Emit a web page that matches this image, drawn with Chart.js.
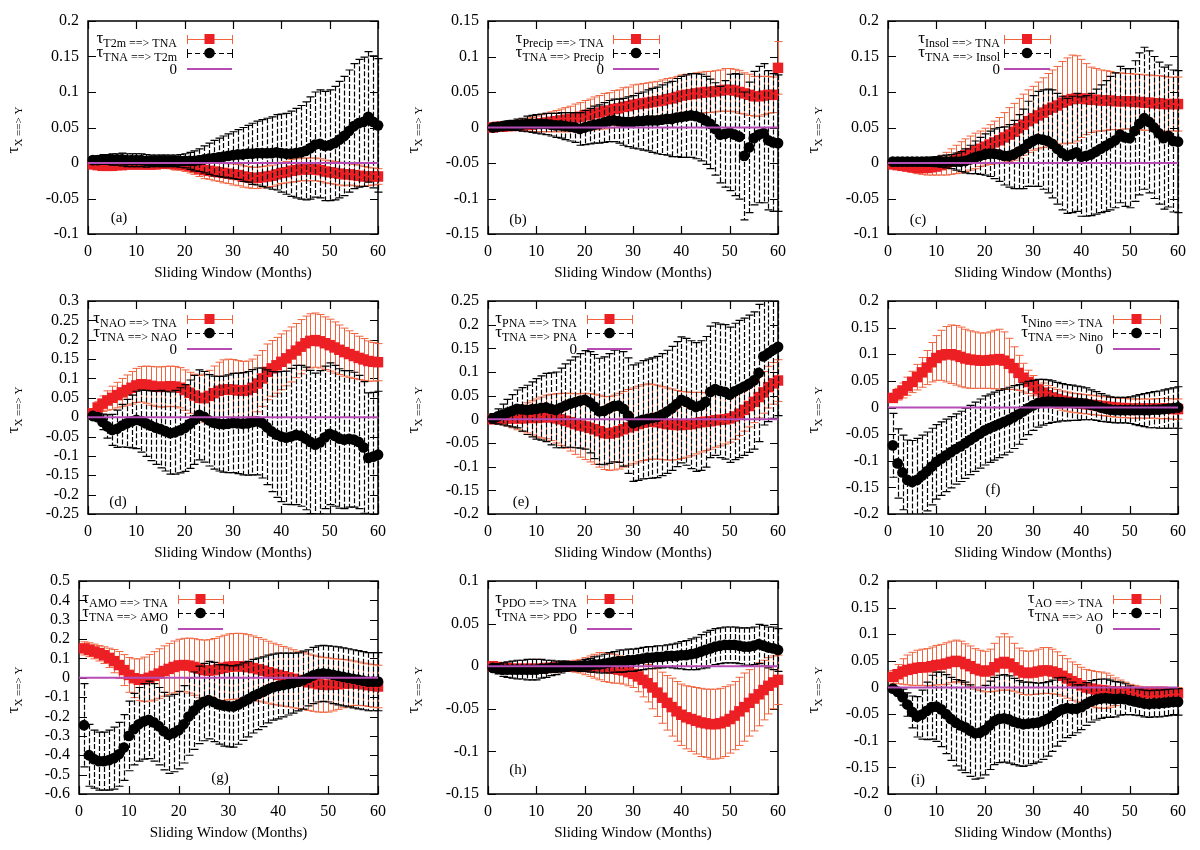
<!DOCTYPE html>
<html>
<head>
<meta charset="utf-8">
<script src="https://cdn.jsdelivr.net/npm/chart.js@4.4.1/dist/chart.umd.min.js"></script>
<style>
  html, body { margin: 0; padding: 0; background: #fff; }
  #grid { position: relative; width: 1200px; height: 850px; background: #fff; overflow: hidden; }
  #grid canvas { position: absolute; }
</style>
</head>
<body>
<div id="grid"></div>
<script>
/* ---- Datos: ventana deslizante (meses) ---- */
const months = [1,2,3,4,5,6,7,8,9,10,11,12,13,14,15,16,17,18,19,20,
  21,22,23,24,25,26,27,28,29,30,31,32,33,34,35,36,37,38,39,40,
  41,42,43,44,45,46,47,48,49,50,51,52,53,54,55,56,57,58,59,60];

/* (a) T2m */
const t2mToTna = [-0.002,-0.003,-0.004,-0.004,-0.004,-0.003,-0.003,-0.002,-0.002,-0.002,
  -0.002,-0.002,-0.002,-0.002,-0.001,-0.001,-0.001,-0.002,-0.002,-0.003,
  -0.004,-0.006,-0.008,-0.010,-0.011,-0.012,-0.013,-0.014,-0.015,-0.016,
  -0.017,-0.019,-0.020,-0.021,-0.021,-0.020,-0.019,-0.018,-0.016,-0.014,
  -0.013,-0.011,-0.010,-0.009,-0.009,-0.009,-0.009,-0.010,-0.012,-0.013,
  -0.014,-0.015,-0.016,-0.016,-0.017,-0.018,-0.019,-0.019,-0.019,-0.019];
const t2mToTnaErr = [0.003,0.003,0.004,0.004,0.004,0.004,0.005,0.005,0.005,0.005,
  0.005,0.006,0.006,0.006,0.006,0.007,0.007,0.008,0.008,0.009,
  0.010,0.010,0.011,0.012,0.012,0.013,0.013,0.014,0.014,0.015,
  0.015,0.015,0.015,0.015,0.015,0.015,0.015,0.015,0.015,0.015,
  0.015,0.016,0.016,0.016,0.016,0.016,0.016,0.016,0.016,0.016,
  0.016,0.016,0.016,0.015,0.015,0.015,0.014,0.013,0.012,0.011];
const tnaToT2m = [0.004,0.004,0.005,0.005,0.005,0.005,0.005,0.004,0.004,0.004,
  0.004,0.003,0.003,0.003,0.003,0.003,0.003,0.003,0.003,0.003,
  0.003,0.003,0.004,0.005,0.006,0.007,0.008,0.009,0.010,0.011,
  0.012,0.012,0.013,0.013,0.014,0.014,0.014,0.014,0.015,0.014,
  0.013,0.013,0.014,0.015,0.017,0.021,0.026,0.027,0.024,0.025,
  0.028,0.033,0.038,0.045,0.052,0.056,0.058,0.065,0.058,0.053];
const tnaToT2mErr = [0.005,0.006,0.007,0.007,0.008,0.008,0.009,0.009,0.009,0.009,
  0.009,0.009,0.008,0.008,0.008,0.008,0.008,0.008,0.009,0.010,
  0.012,0.014,0.016,0.019,0.022,0.025,0.027,0.029,0.031,0.033,
  0.035,0.038,0.040,0.043,0.045,0.047,0.049,0.051,0.053,0.055,
  0.057,0.060,0.063,0.066,0.069,0.072,0.074,0.076,0.077,0.078,
  0.080,0.082,0.084,0.086,0.088,0.090,0.091,0.092,0.093,0.094];

/* (b) Precip */
const precipToTna = [0.000,0.001,0.001,0.002,0.002,0.003,0.003,0.004,0.004,0.005,
  0.006,0.007,0.008,0.009,0.010,0.011,0.012,0.014,0.015,0.017,
  0.018,0.020,0.021,0.023,0.024,0.026,0.027,0.029,0.030,0.032,
  0.033,0.034,0.035,0.036,0.037,0.038,0.040,0.041,0.043,0.045,
  0.046,0.047,0.048,0.049,0.050,0.050,0.051,0.052,0.053,0.053,
  0.052,0.050,0.048,0.046,0.044,0.044,0.045,0.046,0.046,0.084];
const precipToTnaErr = [0.002,0.003,0.004,0.005,0.006,0.007,0.008,0.009,0.010,0.011,
  0.012,0.013,0.014,0.015,0.016,0.017,0.018,0.019,0.020,0.021,
  0.022,0.023,0.024,0.025,0.025,0.026,0.026,0.027,0.027,0.028,
  0.028,0.028,0.028,0.028,0.028,0.029,0.029,0.029,0.029,0.029,
  0.029,0.029,0.029,0.029,0.029,0.029,0.029,0.029,0.030,0.030,
  0.030,0.030,0.029,0.029,0.028,0.028,0.027,0.026,0.025,0.037];
const tnaToPrecip = [0.000,0.001,0.002,0.003,0.003,0.004,0.004,0.005,0.005,0.005,
  0.005,0.005,0.004,0.003,0.003,0.002,0.001,0.000,-0.002,0.000,
  0.002,0.004,0.005,0.007,0.009,0.010,0.009,0.008,0.008,0.008,
  0.009,0.009,0.010,0.010,0.010,0.011,0.012,0.012,0.014,0.015,
  0.016,0.017,0.016,0.014,0.010,0.005,-0.002,-0.010,-0.009,-0.007,
  -0.010,-0.013,-0.040,-0.028,-0.015,-0.010,-0.008,-0.018,-0.021,-0.022];
const tnaToPrecipErr = [0.002,0.003,0.005,0.006,0.007,0.008,0.009,0.011,0.012,0.013,
  0.014,0.015,0.016,0.017,0.018,0.019,0.020,0.021,0.023,0.024,
  0.025,0.026,0.027,0.028,0.029,0.030,0.031,0.033,0.035,0.037,
  0.039,0.041,0.043,0.045,0.047,0.049,0.051,0.053,0.055,0.057,
  0.058,0.059,0.060,0.061,0.062,0.063,0.065,0.068,0.075,0.082,
  0.086,0.088,0.090,0.092,0.094,0.096,0.098,0.098,0.097,0.096];

/* (c) Insol */
const insolToTna = [-0.002,-0.003,-0.004,-0.005,-0.006,-0.007,-0.007,-0.007,-0.006,-0.005,
  -0.003,-0.001,0.002,0.005,0.008,0.011,0.014,0.017,0.020,0.023,
  0.026,0.029,0.032,0.036,0.040,0.044,0.049,0.054,0.059,0.063,
  0.067,0.071,0.075,0.078,0.081,0.085,0.088,0.090,0.091,0.091,
  0.090,0.089,0.089,0.088,0.088,0.088,0.087,0.087,0.087,0.087,
  0.086,0.086,0.085,0.085,0.084,0.084,0.083,0.083,0.083,0.083];
const insolToTnaErr = [0.003,0.004,0.005,0.006,0.007,0.008,0.009,0.010,0.011,0.012,
  0.014,0.016,0.018,0.020,0.022,0.023,0.024,0.025,0.025,0.026,
  0.028,0.030,0.032,0.035,0.038,0.040,0.042,0.043,0.044,0.045,
  0.047,0.049,0.051,0.053,0.055,0.058,0.060,0.062,0.060,0.055,
  0.050,0.046,0.044,0.043,0.042,0.041,0.040,0.040,0.039,0.039,
  0.039,0.039,0.039,0.039,0.039,0.039,0.039,0.038,0.038,0.038];
const tnaToInsol = [0.002,0.002,0.002,0.002,0.002,0.002,0.002,0.002,0.002,0.002,
  0.002,0.002,0.002,0.002,0.002,0.003,0.005,0.008,0.010,0.012,
  0.013,0.013,0.012,0.010,0.010,0.012,0.016,0.020,0.027,0.031,
  0.034,0.033,0.031,0.027,0.020,0.014,0.010,0.012,0.015,0.009,
  0.010,0.012,0.016,0.020,0.024,0.028,0.032,0.040,0.036,0.035,
  0.045,0.055,0.063,0.058,0.050,0.042,0.035,0.038,0.031,0.030];
const tnaToInsolErr = [0.002,0.003,0.003,0.004,0.004,0.005,0.005,0.006,0.006,0.007,
  0.008,0.009,0.010,0.012,0.014,0.017,0.020,0.023,0.026,0.029,
  0.032,0.035,0.038,0.041,0.044,0.048,0.052,0.056,0.060,0.064,
  0.067,0.070,0.073,0.076,0.078,0.080,0.081,0.082,0.083,0.084,
  0.085,0.086,0.088,0.090,0.092,0.094,0.095,0.096,0.097,0.098,
  0.099,0.100,0.100,0.100,0.100,0.100,0.100,0.100,0.100,0.100];

/* (d) NAO */
const naoToTna = [0.010,0.025,0.035,0.043,0.050,0.057,0.064,0.070,0.076,0.082,
  0.085,0.084,0.081,0.079,0.078,0.079,0.080,0.079,0.076,0.070,
  0.063,0.056,0.050,0.049,0.055,0.062,0.068,0.071,0.072,0.071,
  0.069,0.068,0.070,0.076,0.087,0.100,0.117,0.126,0.134,0.143,
  0.152,0.162,0.172,0.182,0.191,0.197,0.199,0.196,0.191,0.186,
  0.180,0.174,0.168,0.163,0.158,0.153,0.149,0.145,0.143,0.142];
const naoToTnaErr = [0.010,0.015,0.020,0.025,0.030,0.033,0.036,0.039,0.042,0.044,
  0.046,0.048,0.050,0.051,0.052,0.052,0.052,0.052,0.052,0.052,
  0.053,0.055,0.058,0.062,0.066,0.070,0.074,0.077,0.078,0.078,
  0.077,0.076,0.075,0.074,0.073,0.072,0.072,0.072,0.072,0.072,
  0.071,0.071,0.070,0.070,0.070,0.070,0.070,0.069,0.068,0.067,
  0.066,0.064,0.062,0.060,0.058,0.056,0.054,0.052,0.050,0.048];
const tnaToNao = [0.003,0.000,-0.012,-0.024,-0.033,-0.030,-0.022,-0.016,-0.011,-0.007,
  -0.010,-0.016,-0.022,-0.027,-0.031,-0.036,-0.041,-0.039,-0.034,-0.028,
  -0.018,-0.007,0.006,0.001,-0.008,-0.014,-0.017,-0.018,-0.017,-0.015,
  -0.016,-0.017,-0.016,-0.013,-0.011,-0.015,-0.026,-0.037,-0.045,-0.050,
  -0.053,-0.050,-0.046,-0.048,-0.055,-0.064,-0.071,-0.065,-0.052,-0.043,
  -0.048,-0.055,-0.058,-0.056,-0.058,-0.064,-0.078,-0.105,-0.102,-0.097];
const tnaToNaoErr = [0.005,0.010,0.020,0.030,0.040,0.048,0.055,0.062,0.068,0.074,
  0.080,0.085,0.090,0.095,0.100,0.103,0.106,0.108,0.110,0.112,
  0.114,0.115,0.116,0.117,0.118,0.120,0.122,0.124,0.126,0.128,
  0.130,0.132,0.134,0.136,0.138,0.142,0.148,0.155,0.162,0.168,
  0.172,0.176,0.180,0.182,0.184,0.185,0.185,0.185,0.184,0.183,
  0.182,0.180,0.178,0.176,0.174,0.172,0.170,0.168,0.166,0.164];

/* (e) PNA */
const pnaToTna = [0.000,0.001,0.001,0.002,0.002,0.002,0.002,0.003,0.003,0.003,
  0.004,0.005,0.004,0.002,0.000,-0.003,-0.006,-0.010,-0.013,-0.015,
  -0.018,-0.021,-0.025,-0.029,-0.030,-0.028,-0.025,-0.021,-0.017,-0.014,
  -0.010,-0.007,-0.005,-0.005,-0.006,-0.008,-0.010,-0.011,-0.012,-0.012,
  -0.011,-0.010,-0.008,-0.006,-0.005,-0.004,-0.002,-0.001,0.000,0.002,
  0.006,0.012,0.020,0.028,0.037,0.047,0.057,0.068,0.076,0.082];
const pnaToTnaErr = [0.004,0.008,0.012,0.016,0.020,0.024,0.028,0.032,0.036,0.040,
  0.043,0.046,0.049,0.052,0.055,0.058,0.061,0.064,0.067,0.070,
  0.072,0.074,0.076,0.077,0.078,0.079,0.080,0.080,0.080,0.080,
  0.080,0.080,0.080,0.079,0.078,0.077,0.076,0.075,0.073,0.071,
  0.069,0.067,0.065,0.063,0.061,0.059,0.057,0.055,0.052,0.050,
  0.048,0.046,0.045,0.044,0.044,0.044,0.044,0.044,0.044,0.044];
const tnaToPna = [0.002,0.006,0.010,0.014,0.018,0.022,0.021,0.020,0.021,0.022,
  0.024,0.025,0.022,0.020,0.024,0.029,0.033,0.036,0.039,0.041,
  0.036,0.027,0.017,0.018,0.023,0.028,0.029,0.022,0.008,-0.008,
  -0.005,-0.001,0.001,0.003,0.005,0.010,0.016,0.023,0.032,0.041,
  0.037,0.031,0.026,0.029,0.037,0.058,0.064,0.060,0.058,0.052,
  0.059,0.064,0.069,0.075,0.082,0.098,0.133,0.140,0.147,0.153];
const tnaToPnaErr = [0.010,0.016,0.022,0.028,0.034,0.040,0.046,0.052,0.058,0.064,
  0.068,0.072,0.076,0.080,0.084,0.088,0.092,0.096,0.100,0.104,
  0.107,0.110,0.112,0.114,0.116,0.118,0.120,0.121,0.122,0.123,
  0.124,0.125,0.126,0.127,0.128,0.129,0.130,0.131,0.132,0.133,
  0.134,0.135,0.136,0.137,0.138,0.139,0.140,0.141,0.142,0.143,
  0.144,0.145,0.145,0.145,0.145,0.145,0.145,0.145,0.145,0.145];

/* (f) Nino */
const ninoToTna = [0.018,0.025,0.032,0.040,0.048,0.057,0.066,0.075,0.085,0.093,
  0.098,0.100,0.100,0.098,0.095,0.092,0.090,0.089,0.088,0.088,
  0.089,0.090,0.091,0.088,0.082,0.074,0.065,0.056,0.048,0.041,
  0.034,0.028,0.023,0.019,0.016,0.013,0.011,0.009,0.008,0.007,
  0.006,0.005,0.004,0.003,0.002,0.001,0.000,-0.001,-0.001,-0.002,
  -0.002,-0.002,-0.002,-0.002,-0.002,-0.002,-0.002,-0.002,-0.003,-0.003];
const ninoToTnaErr = [0.008,0.011,0.014,0.017,0.020,0.024,0.028,0.032,0.037,0.042,
  0.047,0.052,0.055,0.056,0.056,0.055,0.054,0.053,0.052,0.052,
  0.053,0.055,0.056,0.054,0.048,0.040,0.033,0.027,0.022,0.019,
  0.018,0.018,0.018,0.018,0.018,0.018,0.018,0.018,0.018,0.018,
  0.018,0.018,0.018,0.018,0.018,0.018,0.018,0.018,0.018,0.018,
  0.018,0.018,0.018,0.018,0.018,0.019,0.019,0.019,0.019,0.019];
const tnaToNino = [-0.071,-0.105,-0.122,-0.136,-0.140,-0.136,-0.128,-0.120,-0.111,-0.102,
  -0.096,-0.090,-0.084,-0.078,-0.073,-0.067,-0.061,-0.055,-0.049,-0.043,
  -0.039,-0.035,-0.031,-0.027,-0.023,-0.018,-0.013,-0.007,-0.001,0.004,
  0.008,0.010,0.011,0.011,0.010,0.010,0.009,0.009,0.008,0.008,
  0.007,0.005,0.003,0.000,-0.002,-0.004,-0.005,-0.005,-0.005,-0.005,
  -0.005,-0.005,-0.005,-0.005,-0.004,-0.004,-0.003,-0.002,-0.001,0.000];
const tnaToNinoErr = [0.060,0.065,0.070,0.075,0.078,0.078,0.076,0.074,0.072,0.070,
  0.069,0.068,0.067,0.066,0.066,0.066,0.065,0.065,0.065,0.065,
  0.064,0.064,0.063,0.062,0.061,0.059,0.056,0.053,0.050,0.047,
  0.045,0.043,0.041,0.039,0.037,0.035,0.034,0.033,0.032,0.031,
  0.030,0.028,0.027,0.026,0.025,0.024,0.024,0.024,0.024,0.025,
  0.027,0.029,0.031,0.033,0.034,0.035,0.036,0.037,0.038,0.039];

/* (g) AMO */
const amoToTna = [0.152,0.145,0.136,0.127,0.117,0.103,0.086,0.066,0.040,0.015,
  -0.002,-0.010,-0.008,0.000,0.010,0.022,0.035,0.046,0.056,0.064,
  0.066,0.063,0.056,0.047,0.040,0.037,0.040,0.046,0.052,0.057,
  0.059,0.060,0.058,0.055,0.050,0.044,0.037,0.029,0.021,0.015,
  0.008,0.002,-0.005,-0.011,-0.017,-0.023,-0.028,-0.033,-0.036,-0.037,
  -0.036,-0.033,-0.030,-0.028,-0.028,-0.030,-0.034,-0.038,-0.042,-0.045];
const amoToTnaErr = [0.034,0.036,0.038,0.040,0.043,0.050,0.060,0.070,0.080,0.090,
  0.100,0.108,0.115,0.120,0.125,0.128,0.130,0.132,0.134,0.135,
  0.138,0.142,0.146,0.150,0.155,0.160,0.163,0.166,0.168,0.170,
  0.170,0.170,0.170,0.168,0.166,0.164,0.162,0.160,0.158,0.156,
  0.154,0.152,0.150,0.148,0.147,0.146,0.145,0.144,0.142,0.140,
  0.135,0.130,0.125,0.120,0.115,0.112,0.110,0.110,0.110,0.110];
const tnaToAmo = [-0.245,-0.400,-0.420,-0.430,-0.430,-0.425,-0.415,-0.395,-0.360,-0.300,
  -0.265,-0.240,-0.225,-0.217,-0.230,-0.250,-0.275,-0.294,-0.285,-0.270,
  -0.240,-0.200,-0.170,-0.140,-0.125,-0.115,-0.125,-0.137,-0.143,-0.147,
  -0.148,-0.138,-0.123,-0.110,-0.095,-0.083,-0.072,-0.058,-0.048,-0.042,
  -0.037,-0.032,-0.027,-0.021,-0.012,0.000,0.012,0.020,0.023,0.020,
  0.015,0.010,0.005,0.000,-0.005,-0.010,-0.015,-0.020,-0.020,-0.020];
const tnaToAmoErr = [0.215,0.160,0.150,0.150,0.150,0.155,0.160,0.165,0.170,0.180,
  0.185,0.190,0.195,0.200,0.200,0.200,0.200,0.200,0.200,0.200,
  0.200,0.200,0.200,0.200,0.200,0.200,0.205,0.205,0.210,0.210,
  0.210,0.205,0.200,0.195,0.190,0.185,0.180,0.175,0.170,0.170,
  0.165,0.160,0.155,0.150,0.150,0.145,0.145,0.145,0.145,0.145,
  0.148,0.150,0.150,0.150,0.150,0.150,0.150,0.150,0.150,0.150];

/* (h) PDO */
const pdoToTna = [0.000,-0.001,-0.002,-0.002,-0.003,-0.003,-0.003,-0.003,-0.003,-0.003,
  -0.003,-0.002,-0.002,-0.001,-0.001,0.000,0.000,0.000,0.000,0.000,
  0.000,0.000,0.000,-0.001,-0.002,-0.003,-0.004,-0.005,-0.007,-0.009,
  -0.012,-0.016,-0.020,-0.025,-0.031,-0.037,-0.043,-0.048,-0.053,-0.057,
  -0.060,-0.062,-0.064,-0.066,-0.067,-0.068,-0.068,-0.067,-0.065,-0.062,
  -0.058,-0.053,-0.048,-0.043,-0.038,-0.033,-0.028,-0.023,-0.019,-0.016];
const pdoToTnaErr = [0.003,0.004,0.004,0.005,0.005,0.005,0.005,0.005,0.005,0.005,
  0.005,0.005,0.005,0.005,0.005,0.005,0.006,0.007,0.008,0.010,
  0.012,0.014,0.016,0.017,0.017,0.017,0.016,0.016,0.016,0.016,
  0.018,0.020,0.022,0.025,0.028,0.030,0.032,0.034,0.035,0.036,
  0.037,0.038,0.039,0.040,0.040,0.041,0.041,0.041,0.041,0.040,
  0.040,0.040,0.040,0.039,0.038,0.037,0.035,0.033,0.031,0.029];
const tnaToPdo = [-0.002,-0.003,-0.004,-0.004,-0.004,-0.004,-0.004,-0.004,-0.004,-0.004,
  -0.003,-0.003,-0.002,-0.002,-0.001,0.000,0.000,0.000,0.000,0.001,
  0.001,0.002,0.002,0.003,0.004,0.005,0.006,0.006,0.007,0.007,
  0.008,0.009,0.010,0.010,0.011,0.011,0.012,0.012,0.012,0.013,
  0.013,0.014,0.015,0.017,0.019,0.021,0.023,0.024,0.025,0.025,
  0.025,0.024,0.023,0.023,0.024,0.026,0.024,0.022,0.021,0.019];
const tnaToPdoErr = [0.004,0.006,0.008,0.009,0.010,0.011,0.011,0.012,0.012,0.012,
  0.011,0.010,0.009,0.008,0.007,0.006,0.005,0.005,0.006,0.007,
  0.008,0.009,0.010,0.011,0.012,0.012,0.013,0.013,0.013,0.013,
  0.013,0.013,0.013,0.013,0.013,0.013,0.013,0.014,0.015,0.016,
  0.017,0.018,0.019,0.020,0.021,0.021,0.021,0.021,0.021,0.021,
  0.021,0.021,0.022,0.022,0.022,0.023,0.024,0.024,0.025,0.025];

/* (i) AO */
const aoToTna = [0.020,0.025,0.030,0.033,0.035,0.037,0.038,0.038,0.040,0.042,
  0.043,0.045,0.048,0.050,0.048,0.044,0.040,0.035,0.032,0.030,
  0.032,0.038,0.045,0.048,0.045,0.038,0.032,0.028,0.027,0.028,
  0.030,0.032,0.032,0.030,0.027,0.022,0.017,0.012,0.008,0.004,
  0.000,-0.002,-0.004,-0.005,-0.006,-0.007,-0.008,-0.008,-0.008,-0.009,
  -0.009,-0.010,-0.010,-0.010,-0.010,-0.010,-0.010,-0.011,-0.011,-0.011];
const aoToTnaErr = [0.012,0.018,0.024,0.028,0.031,0.033,0.034,0.035,0.036,0.037,
  0.038,0.039,0.039,0.039,0.039,0.038,0.038,0.038,0.038,0.038,
  0.040,0.045,0.050,0.053,0.050,0.045,0.042,0.041,0.041,0.041,
  0.042,0.043,0.043,0.042,0.040,0.038,0.037,0.036,0.035,0.034,
  0.034,0.034,0.034,0.034,0.033,0.030,0.026,0.022,0.018,0.015,
  0.013,0.012,0.011,0.011,0.011,0.011,0.011,0.011,0.011,0.011];
const tnaToAo = [-0.002,-0.008,-0.018,-0.032,-0.046,-0.055,-0.051,-0.044,-0.037,-0.036,
  -0.041,-0.050,-0.059,-0.066,-0.071,-0.075,-0.081,-0.086,-0.085,-0.080,
  -0.071,-0.063,-0.059,-0.058,-0.060,-0.064,-0.067,-0.069,-0.068,-0.067,
  -0.066,-0.063,-0.059,-0.053,-0.046,-0.041,-0.039,-0.040,-0.040,-0.037,
  -0.031,-0.026,-0.023,-0.021,-0.020,-0.021,-0.022,-0.021,-0.022,-0.024,
  -0.026,-0.028,-0.030,-0.031,-0.030,-0.030,-0.029,-0.028,-0.027,-0.027];
const tnaToAoErr = [0.004,0.008,0.015,0.022,0.030,0.038,0.046,0.054,0.060,0.065,
  0.070,0.074,0.078,0.081,0.084,0.085,0.086,0.086,0.085,0.084,
  0.083,0.082,0.082,0.082,0.082,0.081,0.080,0.079,0.078,0.076,
  0.074,0.072,0.070,0.067,0.064,0.060,0.055,0.050,0.045,0.042,
  0.040,0.039,0.038,0.037,0.036,0.035,0.033,0.031,0.029,0.027,
  0.026,0.025,0.025,0.025,0.025,0.025,0.025,0.025,0.025,0.025];

/* ---- Estilo ---- */
const SERIF = '"Liberation Serif", "DejaVu Serif", serif';
const RED = '#ec2024';
const RED_BAR = '#f2643e';
const MAGENTA = '#b64cb6';

// Paneles: rango del eje y, posición de la leyenda y de la etiqueta
const panels = [
  { tag: '(a)', name: 'T2m',    fwd: t2mToTna,    fwdErr: t2mToTnaErr,    rev: tnaToT2m,    revErr: tnaToT2mErr,    yMin: -0.1,  yMax: 0.2,  step: 0.05, left: 88, key: [177, 187, 232], tagAt: [119, 218] },
  { tag: '(b)', name: 'Precip', fwd: precipToTna, fwdErr: precipToTnaErr, rev: tnaToPrecip, revErr: tnaToPrecipErr, yMin: -0.15, yMax: 0.15, step: 0.05, left: 88, key: [204, 213, 259], tagAt: [118, 220] },
  { tag: '(c)', name: 'Insol',  fwd: insolToTna,  fwdErr: insolToTnaErr,  rev: tnaToInsol,  revErr: tnaToInsolErr,  yMin: -0.1,  yMax: 0.2,  step: 0.05, left: 88, key: [200, 204, 250], tagAt: [118, 220] },
  { tag: '(d)', name: 'NAO',    fwd: naoToTna,    fwdErr: naoToTnaErr,    rev: tnaToNao,    revErr: tnaToNaoErr,    yMin: -0.25, yMax: 0.3,  step: 0.05, left: 88, key: [177, 187, 232], tagAt: [118, 222] },
  { tag: '(e)', name: 'PNA',    fwd: pnaToTna,    fwdErr: pnaToTnaErr,    rev: tnaToPna,    revErr: tnaToPnaErr,    yMin: -0.2,  yMax: 0.25, step: 0.05, left: 88, key: [177, 187, 232], tagAt: [121, 222] },
  { tag: '(f)', name: 'Nino',   fwd: ninoToTna,   fwdErr: ninoToTnaErr,   rev: tnaToNino,   revErr: tnaToNinoErr,   yMin: -0.2,  yMax: 0.2,  step: 0.05, left: 88, key: [303, 313, 360], tagAt: [193, 210] },
  { tag: '(g)', name: 'AMO',    fwd: amoToTna,    fwdErr: amoToTnaErr,    rev: tnaToAmo,    revErr: tnaToAmoErr,    yMin: -0.6,  yMax: 0.5,  step: 0.1,  left: 79, key: [168, 178, 223], tagAt: [220, 218] },
  { tag: '(h)', name: 'PDO',    fwd: pdoToTna,    fwdErr: pdoToTnaErr,    rev: tnaToPdo,    revErr: tnaToPdoErr,    yMin: -0.15, yMax: 0.1,  step: 0.05, left: 88, key: [177, 187, 232], tagAt: [118, 210] },
  { tag: '(i)', name: 'AO',     fwd: aoToTna,     fwdErr: aoToTnaErr,     rev: tnaToAo,     revErr: tnaToAoErr,     yMin: -0.2,  yMax: 0.2,  step: 0.05, left: 88, key: [303, 313, 360], tagAt: [118, 220] },
];

/* ---- Plugins ---- */
// Marco con marcas hacia dentro en los cuatro lados
const framePlugin = {
  id: 'frame',
  beforeDatasetsDraw(chart) {
    const { ctx, chartArea: a, scales: { x, y } } = chart;
    ctx.save();
    ctx.strokeStyle = '#000';
    ctx.lineWidth = 1.5;
    ctx.strokeRect(a.left, a.top, a.right - a.left, a.bottom - a.top);
    ctx.lineWidth = 1.2;
    ctx.beginPath();
    y.ticks.forEach(t => {
      const py = Math.round(y.getPixelForValue(t.value)) + 0.5;
      ctx.moveTo(a.left, py); ctx.lineTo(a.left + 8, py);
      ctx.moveTo(a.right, py); ctx.lineTo(a.right - 8, py);
    });
    x.ticks.forEach(t => {
      const px = Math.round(x.getPixelForValue(t.value)) + 0.5;
      ctx.moveTo(px, a.bottom); ctx.lineTo(px, a.bottom - 8);
      ctx.moveTo(px, a.top); ctx.lineTo(px, a.top + 8);
    });
    ctx.stroke();
    ctx.restore();
  }
};

// Barras de error verticales, justo antes de dibujar cada serie
const errorBarPlugin = {
  id: 'errorBars',
  beforeDatasetDraw(chart, args) {
    const ds = chart.data.datasets[args.index];
    if (!ds.errors) return;
    const { ctx, chartArea: a, scales: { x, y } } = chart;
    ctx.save();
    ctx.beginPath();
    ctx.rect(a.left - 10, a.top, a.right - a.left + 20, a.bottom - a.top);
    ctx.clip();
    ctx.strokeStyle = ds.errColor;
    ctx.lineWidth = ds.errWidth;
    ds.data.forEach((p, i) => {
      const px = Math.round(x.getPixelForValue(p.x)) + 0.5;
      const hi = y.getPixelForValue(p.y + ds.errors[i]);
      const lo = y.getPixelForValue(p.y - ds.errors[i]);
      ctx.setLineDash(ds.errDash);
      ctx.beginPath();
      ctx.moveTo(px, hi); ctx.lineTo(px, lo);
      ctx.stroke();
      ctx.setLineDash([]);
      ctx.beginPath();
      ctx.moveTo(px - 4, hi); ctx.lineTo(px + 4, hi);
      ctx.moveTo(px - 4, lo); ctx.lineTo(px + 4, lo);
      ctx.stroke();
    });
    ctx.restore();
  }
};

// τ con subíndice, alineado a la derecha en xEnd
function tauText(ctx, xEnd, y, sub, subSize) {
  ctx.font = `17px ${SERIF}`;
  const wt = ctx.measureText('τ').width;
  ctx.font = `${subSize}px ${SERIF}`;
  const ws = ctx.measureText(sub).width;
  const x0 = xEnd - wt - ws;
  ctx.textAlign = 'left';
  ctx.textBaseline = 'alphabetic';
  ctx.font = `17px ${SERIF}`;
  ctx.fillText('τ', x0, y + 4);
  ctx.font = `${subSize}px ${SERIF}`;
  ctx.fillText(sub, x0 + wt, y + 8);
  return wt + ws;
}

// Leyenda estilo gnuplot, título del eje y y etiqueta del panel
const keyPlugin = {
  id: 'gnuKey',
  afterDraw(chart, args, o) {
    const ctx = chart.ctx;
    const [textEnd, sL, sR] = o.key;
    const mid = (sL + sR) / 2;
    const rows = [39, 53, 69];
    ctx.save();
    ctx.fillStyle = '#000';

    // título del eje y (rotado)
    ctx.save();
    ctx.translate(15, 130);
    ctx.rotate(-Math.PI / 2);
    ctx.font = `17px ${SERIF}`;
    const wt = ctx.measureText('τ').width;
    ctx.font = `11px ${SERIF}`;
    const ws = ctx.measureText('X ==> Y').width;
    tauText(ctx, (wt + ws) / 2, -1, 'X ==> Y', 11);
    ctx.restore();

    // fila 1: X ==> TNA
    tauText(ctx, textEnd, rows[0], `${o.name} ==> TNA`, 12);
    ctx.strokeStyle = RED_BAR;
    ctx.lineWidth = 1;
    ctx.beginPath();
    ctx.moveTo(sL, rows[0] + 0.5); ctx.lineTo(sR, rows[0] + 0.5);
    ctx.moveTo(sL + 0.5, rows[0] - 4); ctx.lineTo(sL + 0.5, rows[0] + 5);
    ctx.moveTo(sR + 0.5, rows[0] - 4); ctx.lineTo(sR + 0.5, rows[0] + 5);
    ctx.stroke();
    ctx.fillStyle = RED;
    ctx.fillRect(mid - 5, rows[0] - 5, 10, 10);

    // fila 2: TNA ==> X
    ctx.fillStyle = '#000';
    tauText(ctx, textEnd, rows[1], `TNA ==> ${o.name}`, 12);
    ctx.strokeStyle = '#000';
    ctx.setLineDash([5, 3]);
    ctx.beginPath();
    ctx.moveTo(sL, rows[1] + 0.5); ctx.lineTo(sR, rows[1] + 0.5);
    ctx.stroke();
    ctx.setLineDash([]);
    ctx.beginPath();
    ctx.moveTo(sL + 0.5, rows[1] - 4); ctx.lineTo(sL + 0.5, rows[1] + 5);
    ctx.moveTo(sR + 0.5, rows[1] - 4); ctx.lineTo(sR + 0.5, rows[1] + 5);
    ctx.stroke();
    ctx.beginPath();
    ctx.arc(mid, rows[1], 5.3, 0, Math.PI * 2);
    ctx.fill();

    // fila 3: línea cero
    ctx.font = `15px ${SERIF}`;
    ctx.textAlign = 'right';
    ctx.textBaseline = 'alphabetic';
    ctx.fillText('0', textEnd, rows[2] + 5);
    ctx.strokeStyle = MAGENTA;
    ctx.lineWidth = 2;
    ctx.beginPath();
    ctx.moveTo(sL, rows[2]); ctx.lineTo(sR, rows[2]);
    ctx.stroke();

    // etiqueta del panel
    ctx.fillStyle = '#000';
    ctx.font = `15px ${SERIF}`;
    ctx.textAlign = 'center';
    ctx.textBaseline = 'middle';
    ctx.fillText(o.tag, o.tagAt[0], o.tagAt[1]);
    ctx.restore();
  }
};

/* ---- Construcción ---- */
const fmtTick = v => String(Math.round(v * 100) / 100);
const grid = document.getElementById('grid');

function buildPanel(p, idx) {
  const cv = document.createElement('canvas');
  cv.width = 400;
  cv.height = 290;
  cv.style.left = (idx % 3) * 400 + 'px';
  cv.style.top = Math.floor(idx / 3) * 280 + 'px';
  grid.appendChild(cv);

  const pts = vals => months.map((m, i) => ({ x: m, y: vals[i] }));
  const tickFont = { family: SERIF, size: 16 };

  new Chart(cv, {
    type: 'scatter',
    data: {
      datasets: [
        {
          type: 'line',
          data: [{ x: 0, y: 0 }, { x: 60, y: 0 }],
          borderColor: MAGENTA,
          borderWidth: 2,
          pointRadius: 0,
          order: 0,
        },
        {
          data: pts(p.rev),
          errors: p.revErr,
          errColor: '#000',
          errDash: [5, 2],
          errWidth: 1.2,
          pointStyle: 'circle',
          pointRadius: 5.4,
          backgroundColor: '#000',
          borderWidth: 0,
          order: 1,
          clip: false,
        },
        {
          data: pts(p.fwd),
          errors: p.fwdErr,
          errColor: RED_BAR,
          errDash: [],
          errWidth: 1,
          pointStyle: 'rect',
          pointRadius: 7.4,
          backgroundColor: RED,
          borderWidth: 0,
          order: 2,
          clip: false,
        },
      ],
    },
    options: {
      responsive: false,
      animation: false,
      events: [],
      layout: { padding: { left: 0, right: 22, top: 21, bottom: 0 } },
      plugins: {
        legend: { display: false },
        tooltip: { enabled: false },
        gnuKey: { name: p.name, key: p.key, tag: p.tag, tagAt: p.tagAt },
      },
      scales: {
        x: {
          type: 'linear',
          min: 0,
          max: 60,
          grid: { display: false, drawTicks: false },
          border: { display: false },
          ticks: { stepSize: 10, color: '#000', font: tickFont, padding: 8, maxRotation: 0, autoSkip: false },
          title: {
            display: true,
            text: 'Sliding Window (Months)',
            color: '#000',
            font: { family: SERIF, size: 15, lineHeight: 1 },
            padding: { top: 0, bottom: 9 },
          },
          afterFit: s => { s.height = 56; },
        },
        y: {
          min: p.yMin,
          max: p.yMax,
          grid: { display: false, drawTicks: false },
          border: { display: false },
          ticks: { stepSize: p.step, color: '#000', font: tickFont, padding: 9, callback: fmtTick, autoSkip: false },
          afterFit: s => { s.width = p.left; },
        },
      },
    },
    plugins: [framePlugin, errorBarPlugin, keyPlugin],
  });
}

panels.forEach(buildPanel);
</script>
</body>
</html>
